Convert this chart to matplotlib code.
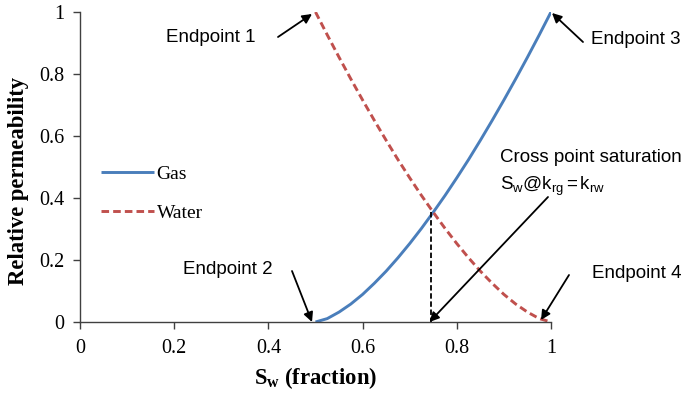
import matplotlib
matplotlib.use("Agg")
import matplotlib.pyplot as plt

plt.rcParams['mathtext.fontset'] = 'custom'
plt.rcParams['mathtext.rm'] = 'Liberation Serif'
plt.rcParams['mathtext.bf'] = 'Liberation Serif:bold'
plt.rcParams['mathtext.sf'] = 'Liberation Sans'
plt.rcParams['mathtext.it'] = 'Liberation Serif:italic'

# Data
sw = [0.500, 0.525, 0.550, 0.575, 0.600, 0.625, 0.650, 0.675, 0.700, 0.725,
      0.750, 0.775, 0.800, 0.825, 0.850, 0.875, 0.900, 0.925, 0.950, 0.975, 1.000]
krg = [0.000, 0.011, 0.032, 0.058, 0.089, 0.125, 0.164, 0.207, 0.253, 0.302,
       0.354, 0.408, 0.465, 0.524, 0.586, 0.650, 0.716, 0.784, 0.854, 0.926, 1.000]
krw = [1.000, 0.926, 0.854, 0.784, 0.716, 0.650, 0.586, 0.524, 0.465, 0.408,
       0.354, 0.302, 0.253, 0.207, 0.164, 0.125, 0.089, 0.058, 0.032, 0.011, 0.000]
cross_sw = 0.746
cross_k = 0.355
xticks = [0, 0.2, 0.4, 0.6, 0.8, 1]
yticks = [0, 0.2, 0.4, 0.6, 0.8, 1]
tick_labels = ['0', '0.2', '0.4', '0.6', '0.8', '1']

serif = 'Liberation Serif'
sans = 'Liberation Sans'

fig = plt.figure(figsize=(6.92, 3.93), dpi=100)
ax = fig.add_axes([80/692, 1-322/393, 471/692, 310/393])

ax.plot(sw, krg, color='#4A7EBB', lw=2.1, label='Gas', solid_capstyle='butt')
ax.plot(sw, krw, color='#C0504D', lw=2.1, ls=(0, (2.6, 1.4)), label='Water')
ax.plot([cross_sw, cross_sw], [cross_k, 0], color='black', lw=1.3, ls=(0, (3, 1.5)))

ax.set_xlim(0, 1)
ax.set_ylim(0, 1)
ax.set_xticks(xticks)
ax.set_yticks(yticks)
ax.set_xticklabels(tick_labels)
ax.set_yticklabels(tick_labels)
for s in ['top', 'right']:
    ax.spines[s].set_visible(False)
for s in ['left', 'bottom']:
    ax.spines[s].set_color('#404040')
    ax.spines[s].set_linewidth(1.0)
ax.tick_params(direction='out', length=5, width=1.0, color='#404040',
               labelsize=14.5)
ax.tick_params(axis='x', pad=7)
ax.tick_params(axis='y', pad=6)
for lab in ax.get_xticklabels() + ax.get_yticklabels():
    lab.set_fontfamily(serif)

ax.set_ylabel('Relative permeability', fontfamily=serif, fontweight='bold',
              fontsize=16.3, labelpad=7.5)
ax.yaxis.label.set_y((322 - 180.5) / 310)
ax.set_xlabel(r'$\mathbf{S_w}$ (fraction)', fontfamily=serif, fontweight='bold',
              fontsize=16.3, labelpad=5)

leg = ax.legend(loc='upper left', bbox_to_anchor=(0.045, 0.505), frameon=False,
                prop={'family': serif, 'size': 14}, handlelength=2.7,
                handletextpad=0.15, labelspacing=1.1, borderpad=0, borderaxespad=0)

def px(x, y):
    return ((x - 80) / 471, (322 - y) / 310)

arrow = dict(arrowstyle='-|>', color='black', lw=1.3, mutation_scale=14,
             shrinkA=0, shrinkB=0)
fs = 13.5
ax.annotate('', xy=px(312, 14), xytext=px(278, 37), xycoords='axes fraction',
            textcoords='axes fraction', arrowprops=arrow, annotation_clip=False)
ax.text(*px(166, 37), 'Endpoint 1', transform=ax.transAxes, fontfamily=sans,
        fontsize=fs, va='center', ha='left')

ax.annotate('', xy=px(552, 13), xytext=px(583, 42), xycoords='axes fraction',
            textcoords='axes fraction', arrowprops=arrow, annotation_clip=False)
ax.text(*px(591, 40), 'Endpoint 3', transform=ax.transAxes, fontfamily=sans,
        fontsize=fs, va='center', ha='left', clip_on=False)

ax.annotate('', xy=px(312, 322), xytext=px(292, 271), xycoords='axes fraction',
            textcoords='axes fraction', arrowprops=arrow, annotation_clip=False)
ax.text(*px(183, 270), 'Endpoint 2', transform=ax.transAxes, fontfamily=sans,
        fontsize=fs, va='center', ha='left')

ax.annotate('', xy=px(541, 320), xytext=px(569, 275), xycoords='axes fraction',
            textcoords='axes fraction', arrowprops=arrow, annotation_clip=False)
ax.text(*px(592, 273), 'Endpoint 4', transform=ax.transAxes, fontfamily=sans,
        fontsize=fs, va='center', ha='left', clip_on=False)

ax.annotate('', xy=(cross_sw - 0.004, 0), xytext=px(548, 197), xycoords='data',
            textcoords='axes fraction', arrowprops=arrow, annotation_clip=False)
ax.text(*px(500, 158), 'Cross point saturation', transform=ax.transAxes,
        fontfamily=sans, fontsize=fs, va='center', ha='left', clip_on=False)
ax.text(*px(500, 186), r'$\mathsf{S_w@k_{rg}=k_{rw}}$', transform=ax.transAxes,
        fontfamily=sans, fontsize=fs, va='center', ha='left', clip_on=False)

fig.savefig('out.png', dpi=100)
